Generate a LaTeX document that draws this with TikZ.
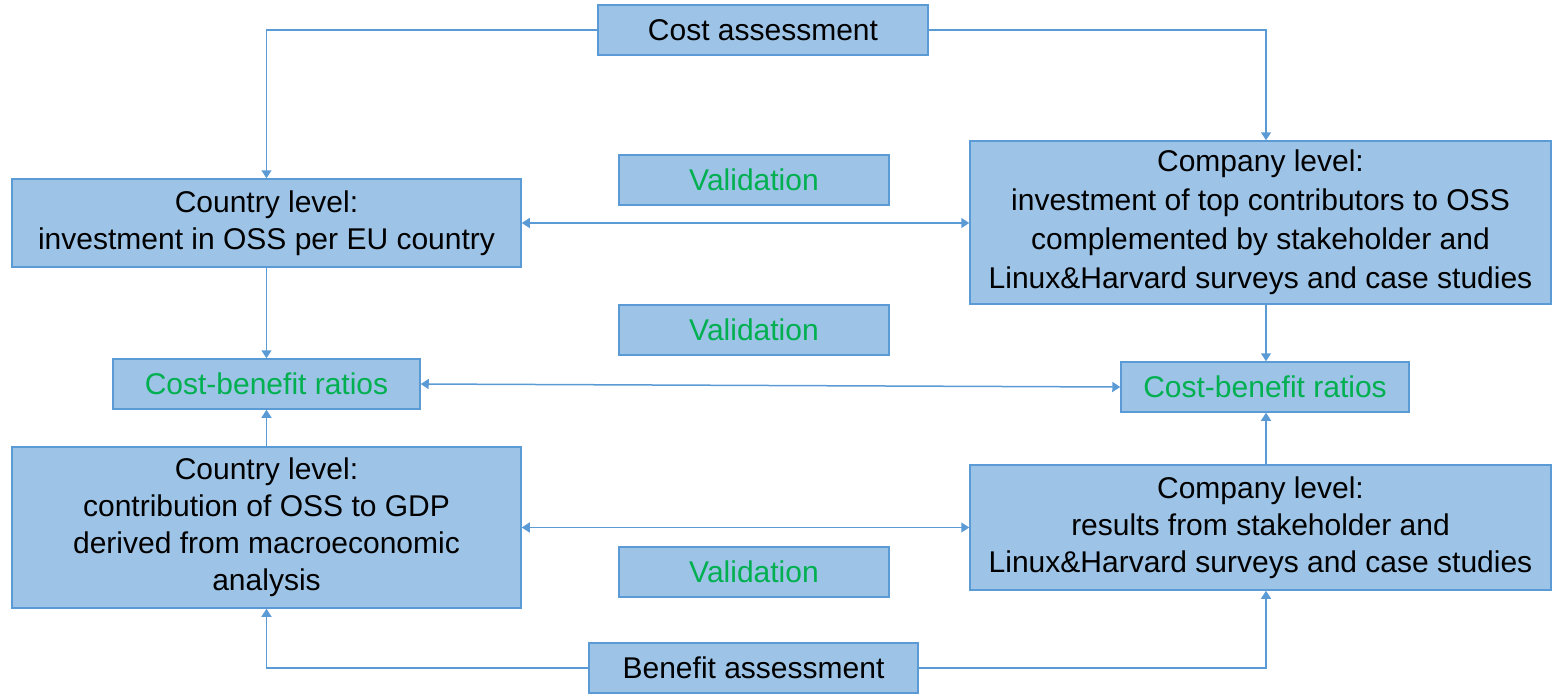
\documentclass[tikz,border=0pt]{standalone}
\usepackage{fontspec}
\setmainfont{Liberation Sans}
\usetikzlibrary{arrows.meta}
\definecolor{boxfill}{HTML}{9DC3E6}
\definecolor{boxline}{HTML}{5B9BD5}
\definecolor{valgreen}{HTML}{00B050}
\begin{document}
\begin{tikzpicture}[x=1pt,y=-1pt,
  box/.style={draw=boxline,fill=boxfill,line width=1.5pt,inner sep=0pt,align=center,
    font=\fontsize{30}{39}\selectfont,text=black},
  tight/.style={font=\fontsize{30}{37}\selectfont},
  gtext/.style={text=valgreen},
  conn/.style={draw=boxline,line width=1.5pt,-{Triangle[width=10pt,length=8pt]}},
  dconn/.style={draw=boxline,line width=1.5pt,{Triangle[width=10pt,length=8pt]}-{Triangle[width=10pt,length=8pt]}}]
\useasboundingbox (0,0) rectangle (1555,694);
\node[box,minimum width=330pt,minimum height=50pt] (cost) at (763,30) {Cost assessment};
\node[box,tight,minimum width=509pt,minimum height=88pt] (ctop) at (266.5,223) {Country level:\\investment in OSS per EU country};
\node[box,gtext,minimum width=270pt,minimum height=50pt] (val1) at (754,180) {Validation};
\node[box,minimum width=581pt,minimum height=163pt] (mtop) at (1260.5,222.5) {Company level:\\investment of top contributors to OSS\\complemented by stakeholder and\\Linux\&Harvard surveys and case studies};
\node[box,gtext,minimum width=270pt,minimum height=50pt] (val2) at (754,330) {Validation};
\node[box,gtext,minimum width=307pt,minimum height=50pt] (cbl) at (266.5,384) {Cost-benefit ratios};
\node[box,gtext,minimum width=288pt,minimum height=50pt] (cbr) at (1265,387) {Cost-benefit ratios};
\node[box,tight,minimum width=509pt,minimum height=161pt] (cbot) at (266.5,527.5) {Country level:\\contribution of OSS to GDP\\derived from macroeconomic\\analysis};
\node[box,tight,minimum width=581pt,minimum height=125pt] (mbot) at (1260.5,527.5) {Company level:\\results from stakeholder and\\Linux\&Harvard surveys and case studies};
\node[box,gtext,minimum width=270pt,minimum height=50pt] (val3) at (754,572) {Validation};
\node[box,minimum width=329pt,minimum height=50pt] (ben) at (753.5,668) {Benefit assessment};
% connectors
\draw[conn] (cost.west) -| (ctop.north);
\draw[conn] (cost.east) -| ([xshift=5.5pt]mtop.north);
\draw[conn] (ctop.south) -- (cbl.north);
\draw[conn] ([xshift=5.5pt]mtop.south) -- ([xshift=1pt]cbr.north);
\draw[conn] (cbot.north) -- (cbl.south);
\draw[conn] ([xshift=5.5pt]mbot.north) -- ([xshift=1pt]cbr.south);
\draw[conn] (ben.west) -| (cbot.south);
\draw[conn] (ben.east) -| ([xshift=5.5pt]mbot.south);
\draw[dconn] (ctop.east) -- (ctop.east -| mtop.west);
\draw[dconn] (cbl.east) -- (cbr.west);
\draw[dconn] (cbot.east) -- (cbot.east -| mbot.west);
\end{tikzpicture}
\end{document}
